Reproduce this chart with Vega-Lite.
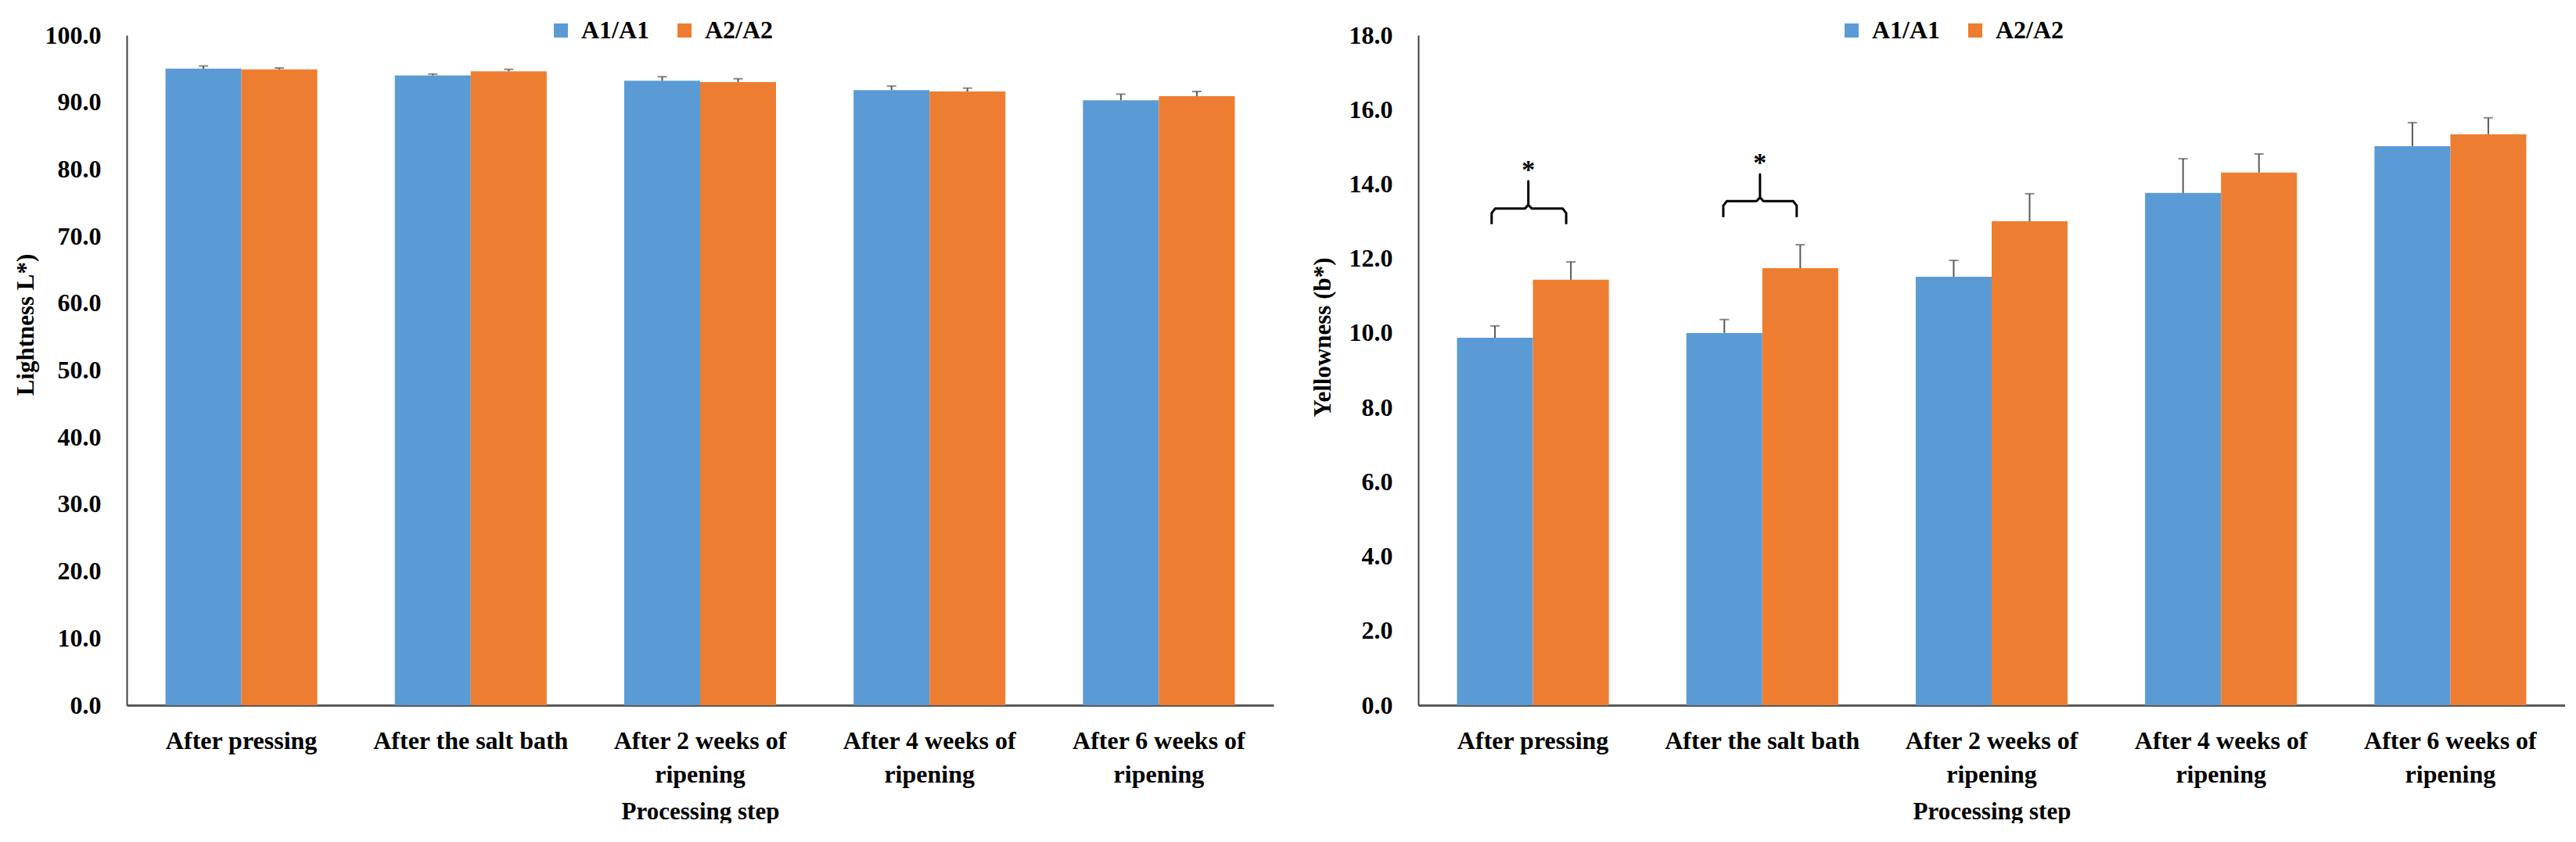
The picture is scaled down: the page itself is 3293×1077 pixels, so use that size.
{
  "$schema": "https://vega.github.io/schema/vega-lite/v6.json",
  "background": "white",
  "padding": {"left": 17, "top": 23, "right": 0, "bottom": 0},
  "bounds": "flush",
  "spacing": 185,
  "datasets": {
    "lightness": [
      {"step": "After pressing", "genotype": "A1/A1", "value": 95.0, "upper": 95.4},
      {"step": "After pressing", "genotype": "A2/A2", "value": 94.9, "upper": 95.1},
      {"step": "After the salt bath", "genotype": "A1/A1", "value": 94.0, "upper": 94.2},
      {"step": "After the salt bath", "genotype": "A2/A2", "value": 94.6, "upper": 94.9},
      {"step": "After 2 weeks of ripening", "genotype": "A1/A1", "value": 93.2, "upper": 93.8},
      {"step": "After 2 weeks of ripening", "genotype": "A2/A2", "value": 93.0, "upper": 93.5},
      {"step": "After 4 weeks of ripening", "genotype": "A1/A1", "value": 91.8, "upper": 92.4},
      {"step": "After 4 weeks of ripening", "genotype": "A2/A2", "value": 91.6, "upper": 92.1},
      {"step": "After 6 weeks of ripening", "genotype": "A1/A1", "value": 90.3, "upper": 91.2},
      {"step": "After 6 weeks of ripening", "genotype": "A2/A2", "value": 90.9, "upper": 91.6}
    ],
    "yellowness": [
      {"step": "After pressing", "genotype": "A1/A1", "value": 9.87, "upper": 10.19},
      {"step": "After pressing", "genotype": "A2/A2", "value": 11.43, "upper": 11.91},
      {"step": "After the salt bath", "genotype": "A1/A1", "value": 10.0, "upper": 10.36},
      {"step": "After the salt bath", "genotype": "A2/A2", "value": 11.74, "upper": 12.37},
      {"step": "After 2 weeks of ripening", "genotype": "A1/A1", "value": 11.51, "upper": 11.95},
      {"step": "After 2 weeks of ripening", "genotype": "A2/A2", "value": 13.0, "upper": 13.74},
      {"step": "After 4 weeks of ripening", "genotype": "A1/A1", "value": 13.76, "upper": 14.68},
      {"step": "After 4 weeks of ripening", "genotype": "A2/A2", "value": 14.31, "upper": 14.81},
      {"step": "After 6 weeks of ripening", "genotype": "A1/A1", "value": 15.02, "upper": 15.65},
      {"step": "After 6 weeks of ripening", "genotype": "A2/A2", "value": 15.34, "upper": 15.78}
    ],
    "braces": [
      {"brace": "p", "seq": 1, "bx": 0.32, "by": 12.92},
      {"brace": "p", "seq": 2, "bx": 0.32, "by": 13.22},
      {"brace": "p", "seq": 3, "bx": 0.335, "by": 13.34},
      {"brace": "p", "seq": 4, "bx": 0.465, "by": 13.34},
      {"brace": "p", "seq": 5, "bx": 0.48, "by": 13.44},
      {"brace": "p", "seq": 6, "bx": 0.48, "by": 14.08},
      {"brace": "p", "seq": 7, "bx": 0.48, "by": 13.44},
      {"brace": "p", "seq": 8, "bx": 0.495, "by": 13.34},
      {"brace": "p", "seq": 9, "bx": 0.63, "by": 13.34},
      {"brace": "p", "seq": 10, "bx": 0.645, "by": 13.22},
      {"brace": "p", "seq": 11, "bx": 0.645, "by": 12.92},
      {"brace": "s", "seq": 1, "bx": 1.33, "by": 13.11},
      {"brace": "s", "seq": 2, "bx": 1.33, "by": 13.42},
      {"brace": "s", "seq": 3, "bx": 1.345, "by": 13.54},
      {"brace": "s", "seq": 4, "bx": 1.475, "by": 13.54},
      {"brace": "s", "seq": 5, "bx": 1.49, "by": 13.64},
      {"brace": "s", "seq": 6, "bx": 1.49, "by": 14.26},
      {"brace": "s", "seq": 7, "bx": 1.49, "by": 13.64},
      {"brace": "s", "seq": 8, "bx": 1.505, "by": 13.54},
      {"brace": "s", "seq": 9, "bx": 1.635, "by": 13.54},
      {"brace": "s", "seq": 10, "bx": 1.65, "by": 13.42},
      {"brace": "s", "seq": 11, "bx": 1.65, "by": 13.11}
    ],
    "stars": [
      {"sx": 0.48, "sy": 14.16, "label": "*"},
      {"sx": 1.49, "sy": 14.35, "label": "*"}
    ]
  },
  "config": {
    "view": {"stroke": null},
    "font": "Liberation Serif",
    "axis": {
      "grid": false,
      "ticks": false,
      "labelFont": "Liberation Serif",
      "labelFontWeight": "bold",
      "labelFontSize": 32,
      "labelColor": "black",
      "titleFont": "Liberation Serif",
      "titleFontWeight": "bold",
      "titleFontSize": 31,
      "titleColor": "black"
    },
    "legend": {
      "symbolType": "square",
      "symbolSize": 324,
      "labelFont": "Liberation Serif",
      "labelFontWeight": "bold",
      "labelFontSize": 32,
      "labelColor": "black",
      "labelOffset": 10,
      "columnPadding": 28,
      "symbolStrokeWidth": 0
    }
  },
  "resolve": {
    "scale": {"x": "independent", "y": "independent", "color": "independent"},
    "legend": {"color": "independent"}
  },
  "hconcat": [
    {
      "width": 1466,
      "height": 857,
      "data": {"name": "lightness"},
      "layer": [
        {
          "mark": {"type": "bar"},
          "encoding": {
            "x": {
              "field": "step", "type": "nominal",
              "sort": ["After pressing", "After the salt bath", "After 2 weeks of ripening", "After 4 weeks of ripening", "After 6 weeks of ripening"],
              "scale": {"paddingInner": 0.338, "paddingOuter": 0.169},
              "title": "Processing step",
              "axis": {
                "labelAngle": 0,
                "labelLimit": 500,
                "labelOverlap": false,
                "labelPadding": 30,
                "labelLineHeight": 43,
                "labelExpr": "indexof(datum.label, ' weeks of ') > 0 ? [replace(datum.label, ' ripening', ''), 'ripening'] : datum.label",
                "domainColor": "#595959",
                "domainWidth": 3,
                "titleY": 136,
                "titleBaseline": "middle"
              }
            },
            "xOffset": {"field": "genotype", "type": "nominal", "sort": ["A1/A1", "A2/A2"]},
            "y": {
              "field": "value", "type": "quantitative",
              "scale": {"domain": [0, 100], "nice": false},
              "title": "Lightness L*)",
              "axis": {
                "values": [0, 10, 20, 30, 40, 50, 60, 70, 80, 90, 100],
                "format": ".1f",
                "labelPadding": 33,
                "domainColor": "#404040",
                "domainWidth": 2,
                "titleX": -129,
                "titleY": 370,
                "titleAlign": "center",
                "titleBaseline": "middle"
              }
            },
            "color": {
              "field": "genotype", "type": "nominal",
              "scale": {"domain": ["A1/A1", "A2/A2"], "range": ["#5B9BD5", "#ED7D31"]},
              "legend": {"orient": "none", "direction": "horizontal", "legendX": 539, "legendY": -22, "title": null}
            }
          }
        },
        {
          "mark": {"type": "rule", "color": "#595959", "strokeWidth": 2},
          "encoding": {
            "x": {"field": "step", "type": "nominal", "sort": ["After pressing", "After the salt bath", "After 2 weeks of ripening", "After 4 weeks of ripening", "After 6 weeks of ripening"]},
            "xOffset": {"field": "genotype", "type": "nominal", "sort": ["A1/A1", "A2/A2"]},
            "y": {"field": "value", "type": "quantitative"},
            "y2": {"field": "upper"}
          }
        },
        {
          "mark": {"type": "tick", "orient": "horizontal", "color": "#595959", "size": 12, "thickness": 2},
          "encoding": {
            "x": {"field": "step", "type": "nominal", "sort": ["After pressing", "After the salt bath", "After 2 weeks of ripening", "After 4 weeks of ripening", "After 6 weeks of ripening"]},
            "xOffset": {"field": "genotype", "type": "nominal", "sort": ["A1/A1", "A2/A2"]},
            "y": {"field": "upper", "type": "quantitative"}
          }
        }
      ]
    },
    {
      "width": 1466,
      "height": 857,
      "resolve": {"scale": {"x": "independent"}},
      "layer": [
        {
          "data": {"name": "yellowness"},
          "layer": [
            {
              "mark": {"type": "bar"},
              "encoding": {
                "x": {
                  "field": "step", "type": "nominal",
                  "sort": ["After pressing", "After the salt bath", "After 2 weeks of ripening", "After 4 weeks of ripening", "After 6 weeks of ripening"],
                  "scale": {"paddingInner": 0.338, "paddingOuter": 0.169},
                  "title": "Processing step",
                  "axis": {
                    "labelAngle": 0,
                    "labelLimit": 500,
                    "labelOverlap": false,
                    "labelPadding": 30,
                    "labelLineHeight": 43,
                    "labelExpr": "indexof(datum.label, ' weeks of ') > 0 ? [replace(datum.label, ' ripening', ''), 'ripening'] : datum.label",
                    "domainColor": "#595959",
                    "domainWidth": 3,
                    "titleY": 136,
                    "titleBaseline": "middle"
                  }
                },
                "xOffset": {"field": "genotype", "type": "nominal", "sort": ["A1/A1", "A2/A2"]},
                "y": {
                  "field": "value", "type": "quantitative",
                  "scale": {"domain": [0, 18], "nice": false},
                  "title": "Yellowness (b*)",
                  "axis": {
                    "values": [0, 2, 4, 6, 8, 10, 12, 14, 16, 18],
                    "format": ".1f",
                    "labelPadding": 33,
                    "domainColor": "#404040",
                    "domainWidth": 2,
                    "titleX": -122,
                    "titleY": 386,
                    "titleAlign": "center",
                    "titleBaseline": "middle"
                  }
                },
                "color": {
                  "field": "genotype", "type": "nominal",
                  "scale": {"domain": ["A1/A1", "A2/A2"], "range": ["#5B9BD5", "#ED7D31"]},
                  "legend": {"orient": "none", "direction": "horizontal", "legendX": 538, "legendY": -22, "title": null}
                }
              }
            },
            {
              "mark": {"type": "rule", "color": "#595959", "strokeWidth": 2},
              "encoding": {
                "x": {"field": "step", "type": "nominal", "sort": ["After pressing", "After the salt bath", "After 2 weeks of ripening", "After 4 weeks of ripening", "After 6 weeks of ripening"]},
                "xOffset": {"field": "genotype", "type": "nominal", "sort": ["A1/A1", "A2/A2"]},
                "y": {"field": "value", "type": "quantitative"},
                "y2": {"field": "upper"}
              }
            },
            {
              "mark": {"type": "tick", "orient": "horizontal", "color": "#595959", "size": 12, "thickness": 2},
              "encoding": {
                "x": {"field": "step", "type": "nominal", "sort": ["After pressing", "After the salt bath", "After 2 weeks of ripening", "After 4 weeks of ripening", "After 6 weeks of ripening"]},
                "xOffset": {"field": "genotype", "type": "nominal", "sort": ["A1/A1", "A2/A2"]},
                "y": {"field": "upper", "type": "quantitative"}
              }
            }
          ]
        },
        {
          "data": {"name": "braces"},
          "mark": {"type": "line", "color": "black", "strokeWidth": 3, "strokeJoin": "round"},
          "encoding": {
            "x": {"field": "bx", "type": "quantitative", "scale": {"domain": [0, 5], "nice": false, "zero": false}, "axis": null},
            "y": {"field": "by", "type": "quantitative"},
            "detail": {"field": "brace", "type": "nominal"},
            "order": {"field": "seq", "type": "quantitative"}
          }
        },
        {
          "data": {"name": "stars"},
          "mark": {"type": "text", "fontSize": 34, "fontWeight": "bold", "font": "Liberation Serif", "baseline": "alphabetic", "color": "black"},
          "encoding": {
            "x": {"field": "sx", "type": "quantitative", "scale": {"domain": [0, 5], "nice": false, "zero": false}, "axis": null},
            "y": {"field": "sy", "type": "quantitative"},
            "text": {"field": "label"}
          }
        }
      ]
    }
  ]
}
